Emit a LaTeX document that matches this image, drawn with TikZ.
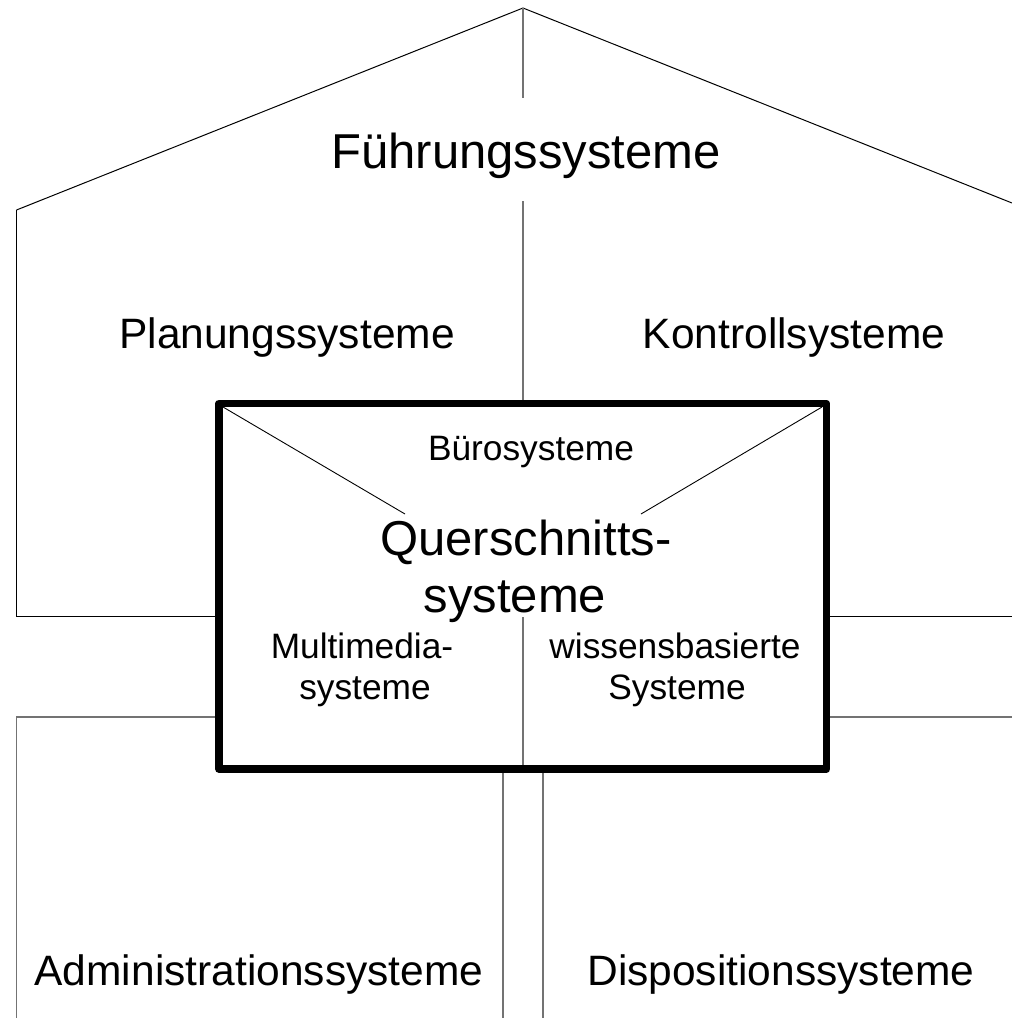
\documentclass[tikz,border=0pt]{standalone}
\usepackage{fontspec}
\setmainfont{Liberation Sans}
\begin{document}
\begin{tikzpicture}[x=1pt,y=-1pt,
  thin line/.style={line width=1pt,black},
  grey line/.style={line width=1.3pt,color=black!55},
  frame/.style={line width=7.5pt,line join=round,black},
  big/.style={font=\fontsize{49}{58}\selectfont,inner sep=0pt,anchor=base},
  mid/.style={font=\fontsize{42.5}{50}\selectfont,inner sep=0pt,anchor=base},
  small/.style={font=\fontsize{35.3}{41}\selectfont,inner sep=0pt,anchor=base}]
\useasboundingbox (0,0) rectangle (1012,1018);
\begin{scope}
\clip (0,0) rectangle (1012,1018);
% roof and outer walls
\coordinate (apex) at (523,8);
\coordinate (eaveL) at (16.5,210);
\coordinate (eaveR) at (1012,203);
\draw[thin line] (eaveL) -- (apex) -- (eaveR);
\draw[grey line] (apex) -- (523,98);
\draw[grey line] (523,201) -- (523,403);
\draw[thin line] (eaveL) -- (16.5,616) -- (219,616);
\draw[thin line] (826,616) -- (1012,616);
\draw[grey line] (219,717) -- (16.5,717) -- (16.5,1018);
\draw[grey line] (826,717) -- (1012,717);
\draw[grey line] (503,769) -- (503,1018);
\draw[grey line] (543,769) -- (543,1018);
% central box with its inner partitions
\coordinate (boxNW) at (219,403.5);
\coordinate (boxSE) at (826.5,769);
\draw[thin line,line width=0.9pt] (223,407) -- (405,514);
\draw[thin line,line width=0.9pt] (822,407) -- (641,514);
\draw[grey line] (523,617) -- (523,769);
\draw[frame] (boxNW) rectangle (boxSE);
\end{scope}
% labels
\node[big] (fuehrung) at (526,168) {Führungssysteme};
\node[mid] (planung) at (287,348) {Planungssysteme};
\node[mid] (kontroll) at (794,348) {Kontrollsysteme};
\node[small] (buero) at (531,460) {Bürosysteme};
\node[big] (quer1) at (526,555) {Querschnitts-};
\node[big] (quer2) at (515,612) {systeme};
\node[small] (multi1) at (362,658) {Multimedia-};
\node[small] (multi2) at (365,699) {systeme};
\node[small] (wissen1) at (675,658) {wissensbasierte};
\node[small] (wissen2) at (677,699) {Systeme};
\node[mid] (admin) at (259,985) {Administrationssysteme};
\node[mid] (dispo) at (781,985) {Dispositionssysteme};
\end{tikzpicture}
\end{document}
